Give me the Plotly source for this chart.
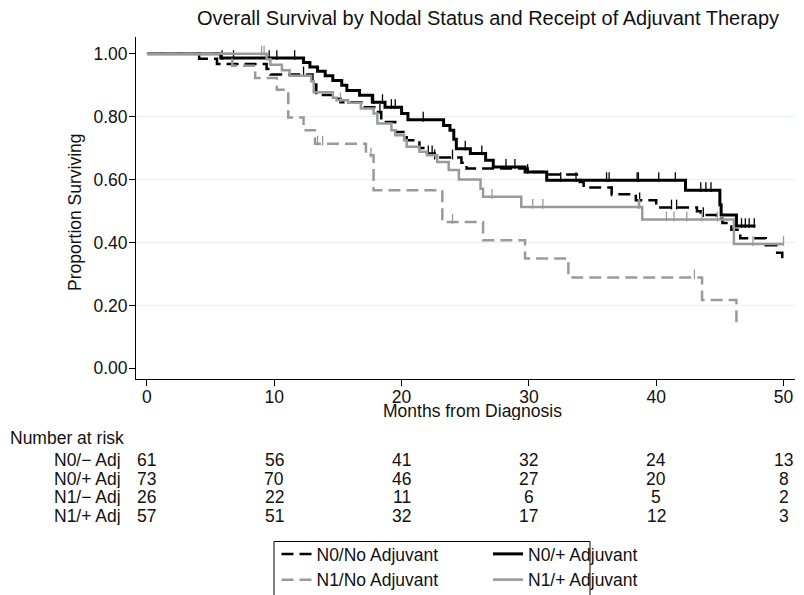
import plotly.graph_objects as go

# ---------------- data ----------------
N0_NOADJ_T = [0, 4.1, 5.5, 9.4, 9.7, 13.0, 13.3, 14.8, 15.2, 17.0, 18.0, 18.4, 19.5, 20.4, 21.4, 22.0, 22.6,
              24.7, 25.1, 29.9, 31.5, 34.0, 34.3, 36.5, 38.4, 40.0, 43.2, 43.5, 44.7, 45.2, 45.9, 46.6,
              48.6, 49.5, 49.9, 50.0]
N0_NOADJ_S = [1.0, 0.984, 0.967, 0.951, 0.934, 0.902, 0.869, 0.857, 0.846, 0.830, 0.815, 0.783, 0.751,
              0.725, 0.700, 0.683, 0.670, 0.653, 0.635, 0.624, 0.616, 0.592, 0.575, 0.553, 0.534, 0.511,
              0.499, 0.487, 0.475, 0.462, 0.440, 0.413, 0.391, 0.367, 0.349, 0.349]
N0_NOADJ_C = [12.3, 18.3, 22.1, 22.4, 22.6, 24.0, 36.5, 38.7, 41.2, 41.6, 43.7]

N0_ADJ_T = [0, 5.8, 12.3, 12.8, 13.4, 14.0, 14.6, 15.3, 15.7, 16.7, 17.7, 18.7, 20.0, 20.5, 23.3, 23.8,
            24.1, 24.3, 25.4, 26.6, 27.2, 29.7, 31.4, 42.3, 45.0, 45.1, 46.3, 47.8]
N0_ADJ_S = [1.0, 0.986, 0.972, 0.958, 0.944, 0.930, 0.915, 0.900, 0.883, 0.868, 0.846, 0.830, 0.810,
            0.790, 0.772, 0.757, 0.728, 0.698, 0.683, 0.661, 0.640, 0.624, 0.598, 0.566, 0.520, 0.487,
            0.452, 0.452]
N0_ADJ_C = [5.9, 6.8, 9.6, 10.2, 11.6, 17.8, 18.5, 19.2, 19.5, 21.7, 25.0, 26.3, 28.2, 28.9, 29.9,
            32.5, 33.7, 36.1, 36.3, 38.5, 38.6, 40.2, 41.5, 43.5, 43.9, 44.3, 46.7, 47.0, 47.3, 47.7]

N1_NOADJ_T = [0, 6.7, 8.5, 10.2, 11.1, 12.3, 13.2, 17.2, 17.8, 23.2, 26.4, 29.7, 33.1, 43.6, 46.3]
N1_NOADJ_S = [1.0, 0.962, 0.923, 0.885, 0.797, 0.757, 0.714, 0.677, 0.566, 0.465, 0.407, 0.349, 0.289,
              0.217, 0.145]
N1_NOADJ_C = [13.4, 13.8, 17.6, 24.0, 43.0]

N1_ADJ_T = [0, 9.4, 9.7, 10.6, 11.2, 12.9, 13.1, 14.6, 14.9, 15.8, 16.8, 17.8, 18.1, 19.2, 19.5, 20.2,
            20.4, 21.4, 22.0, 22.8, 23.7, 24.5, 26.2, 26.4, 29.4, 38.9, 46.1, 50.0]
N1_ADJ_S = [1.0, 0.982, 0.965, 0.947, 0.930, 0.912, 0.877, 0.860, 0.852, 0.844, 0.826, 0.810, 0.778,
            0.757, 0.741, 0.725, 0.704, 0.688, 0.677, 0.656, 0.630, 0.600, 0.571, 0.545, 0.513, 0.473,
            0.395, 0.395]
N1_ADJ_C = [9.0, 9.2, 15.2, 27.1, 30.3, 31.1, 38.6, 38.7, 40.8, 41.4, 42.4, 43.6, 44.8, 47.6, 50.0]

RISK_TIMES = [0, 10, 20, 30, 40, 50]
RISK_LABELS = ["N0/\u2212 Adj", "N0/+ Adj", "N1/\u2212 Adj", "N1/+ Adj"]
RISK_N0_NOADJ = [61, 56, 41, 32, 24, 13]
RISK_N0_ADJ = [73, 70, 46, 27, 20, 8]
RISK_N1_NOADJ = [26, 22, 11, 6, 5, 2]
RISK_N1_ADJ = [57, 51, 32, 17, 12, 3]

Y_TICKS = [0, 0.2, 0.4, 0.6, 0.8, 1.0]
GRID_Y = [0.2, 0.4, 0.6, 0.8]
X_TICKS = [0, 10, 20, 30, 40, 50]

TITLE = "Overall Survival by Nodal Status and Receipt of Adjuvant Therapy"

# ---------------- layout geometry ----------------
# the page body has an 8px default margin, so the figure is drawn 8px in from the corner
OFF = 8
PAGE_W, PAGE_H = 804, 595
W, H = PAGE_W - OFF, PAGE_H - OFF
PL, PR, PT, PB = 136, 795, 37, 379          # plot area in page pixels
ML, MT = PL - OFF, PT - OFF
MR, MB = PAGE_W - PR, PAGE_H - PB
PW, PH = PR - PL, PB - PT
YR = [-0.034, 1.053]
XR = [-0.86, 50.9]
FONT = "Liberation Sans, Arial, Helvetica, sans-serif"
FS = 17.5
GREY = "#9a9a9a"


def px_x(px):
    return (px - PL) / PW


def px_y(py):
    return (PB - py) / PH


def surv_at(ts, ss, t):
    v = ss[0]
    for ti, si in zip(ts, ss):
        if ti <= t:
            v = si
    return v


tick_shift = 3.0 / PH * (YR[1] - YR[0])

fig = go.Figure()

series = [
    ("N0/No Adjuvant", N0_NOADJ_T, N0_NOADJ_S, N0_NOADJ_C, "black", "12px,6px", 2.5, "legend"),
    ("N0/+ Adjuvant", N0_ADJ_T, N0_ADJ_S, N0_ADJ_C, "black", "solid", 3.0, "legend2"),
    ("N1/No Adjuvant", N1_NOADJ_T, N1_NOADJ_S, N1_NOADJ_C, GREY, "12px,6px", 2.5, "legend"),
    ("N1/+ Adjuvant", N1_ADJ_T, N1_ADJ_S, N1_ADJ_C, GREY, "solid", 2.5, "legend2"),
]

for name, ts, ss, cs, col, dash, lw, lg in series:
    fig.add_trace(go.Scatter(
        x=ts, y=ss, mode="lines", name=name, legend=lg,
        line=dict(color=col, width=lw, dash=dash, shape="hv"),
        hoverinfo="skip",
    ))
    fig.add_trace(go.Scatter(
        x=cs, y=[surv_at(ts, ss, c) + tick_shift for c in cs], mode="markers",
        showlegend=False, legend=lg, hoverinfo="skip",
        marker=dict(symbol="line-ns", size=7, line=dict(color=col, width=1.3)),
    ))

shapes = []
for g in GRID_Y:
    shapes.append(dict(type="line", xref="paper", yref="y", x0=0, x1=1, y0=g, y1=g,
                       line=dict(color="#e6eff1", width=1), layer="below"))
# legend frame
shapes.append(dict(type="rect", xref="paper", yref="paper",
                   x0=px_x(274), x1=px_x(590), y0=px_y(541.5), y1=px_y(610),
                   line=dict(color="black", width=1), fillcolor="rgba(0,0,0,0)"))

annotations = []
annotations.append(dict(text="Proportion Surviving", xref="paper", yref="paper",
                        x=px_x(75), y=px_y(212), textangle=-90, showarrow=False,
                        xanchor="center", yanchor="middle", font=dict(size=FS, color="#111")))
annotations.append(dict(text="Months from Diagnosis", xref="paper", yref="paper",
                        x=px_x(472), y=px_y(411), showarrow=False, height=18,
                        xanchor="center", yanchor="middle", font=dict(size=FS, color="#111")))
annotations.append(dict(text="Number at risk", xref="paper", yref="paper",
                        x=px_x(8), y=px_y(438), showarrow=False, height=18,
                        xanchor="left", yanchor="middle", font=dict(size=FS, color="#111")))
row_y = [460, 478.5, 497, 515.5]
rows = [RISK_N0_NOADJ, RISK_N0_ADJ, RISK_N1_NOADJ, RISK_N1_ADJ]
for lab, vals, ry in zip(RISK_LABELS, rows, row_y):
    annotations.append(dict(text=lab, xref="paper", yref="paper", x=px_x(123), y=px_y(ry),
                            showarrow=False, xanchor="right", yanchor="middle", height=18,
                            font=dict(size=FS, color="#111")))
    for t, v in zip(RISK_TIMES, vals):
        annotations.append(dict(text=str(v), xref="x", yref="paper", x=t, y=px_y(ry),
                                showarrow=False, xanchor="center", yanchor="middle", height=18,
                                font=dict(size=FS, color="#111")))

fig.update_layout(
    width=W, height=H,
    margin=dict(l=ML, r=MR, t=MT, b=MB, autoexpand=False),
    paper_bgcolor="white", plot_bgcolor="white",
    font=dict(family=FONT, size=FS, color="#111"),
    title=dict(text=TITLE, x=(488 - OFF) / W, xref="container", xanchor="center",
               y=1 - (18 - OFF) / H, yref="container", yanchor="middle",
               font=dict(size=20, color="#111")),
    xaxis=dict(range=XR, tickvals=X_TICKS, showgrid=False, zeroline=False,
               showline=True, linecolor="black", linewidth=1,
               ticks="outside", ticklen=6, tickcolor="black", tickwidth=1,
               ticklabelstandoff=-4,
               tickfont=dict(size=FS, color="#111")),
    yaxis=dict(range=YR, tickvals=Y_TICKS, tickformat=".2f", showgrid=False, zeroline=False,
               showline=True, linecolor="black", linewidth=1,
               ticks="outside", ticklen=6, tickcolor="black", tickwidth=1,
               ticklabelstandoff=-2,
               tickfont=dict(size=FS, color="#111")),
    legend=dict(x=px_x(276.5), y=px_y(536), xanchor="left", yanchor="top",
                bgcolor="rgba(0,0,0,0)", borderwidth=0, font=dict(size=FS, color="#111"),
                tracegroupgap=0),
    legend2=dict(x=px_x(488), y=px_y(536), xanchor="left", yanchor="top",
                 bgcolor="rgba(0,0,0,0)", borderwidth=0, font=dict(size=FS, color="#111"),
                 tracegroupgap=0),
    shapes=shapes,
    annotations=annotations,
    showlegend=True,
)

fig.write_html("out.html")
